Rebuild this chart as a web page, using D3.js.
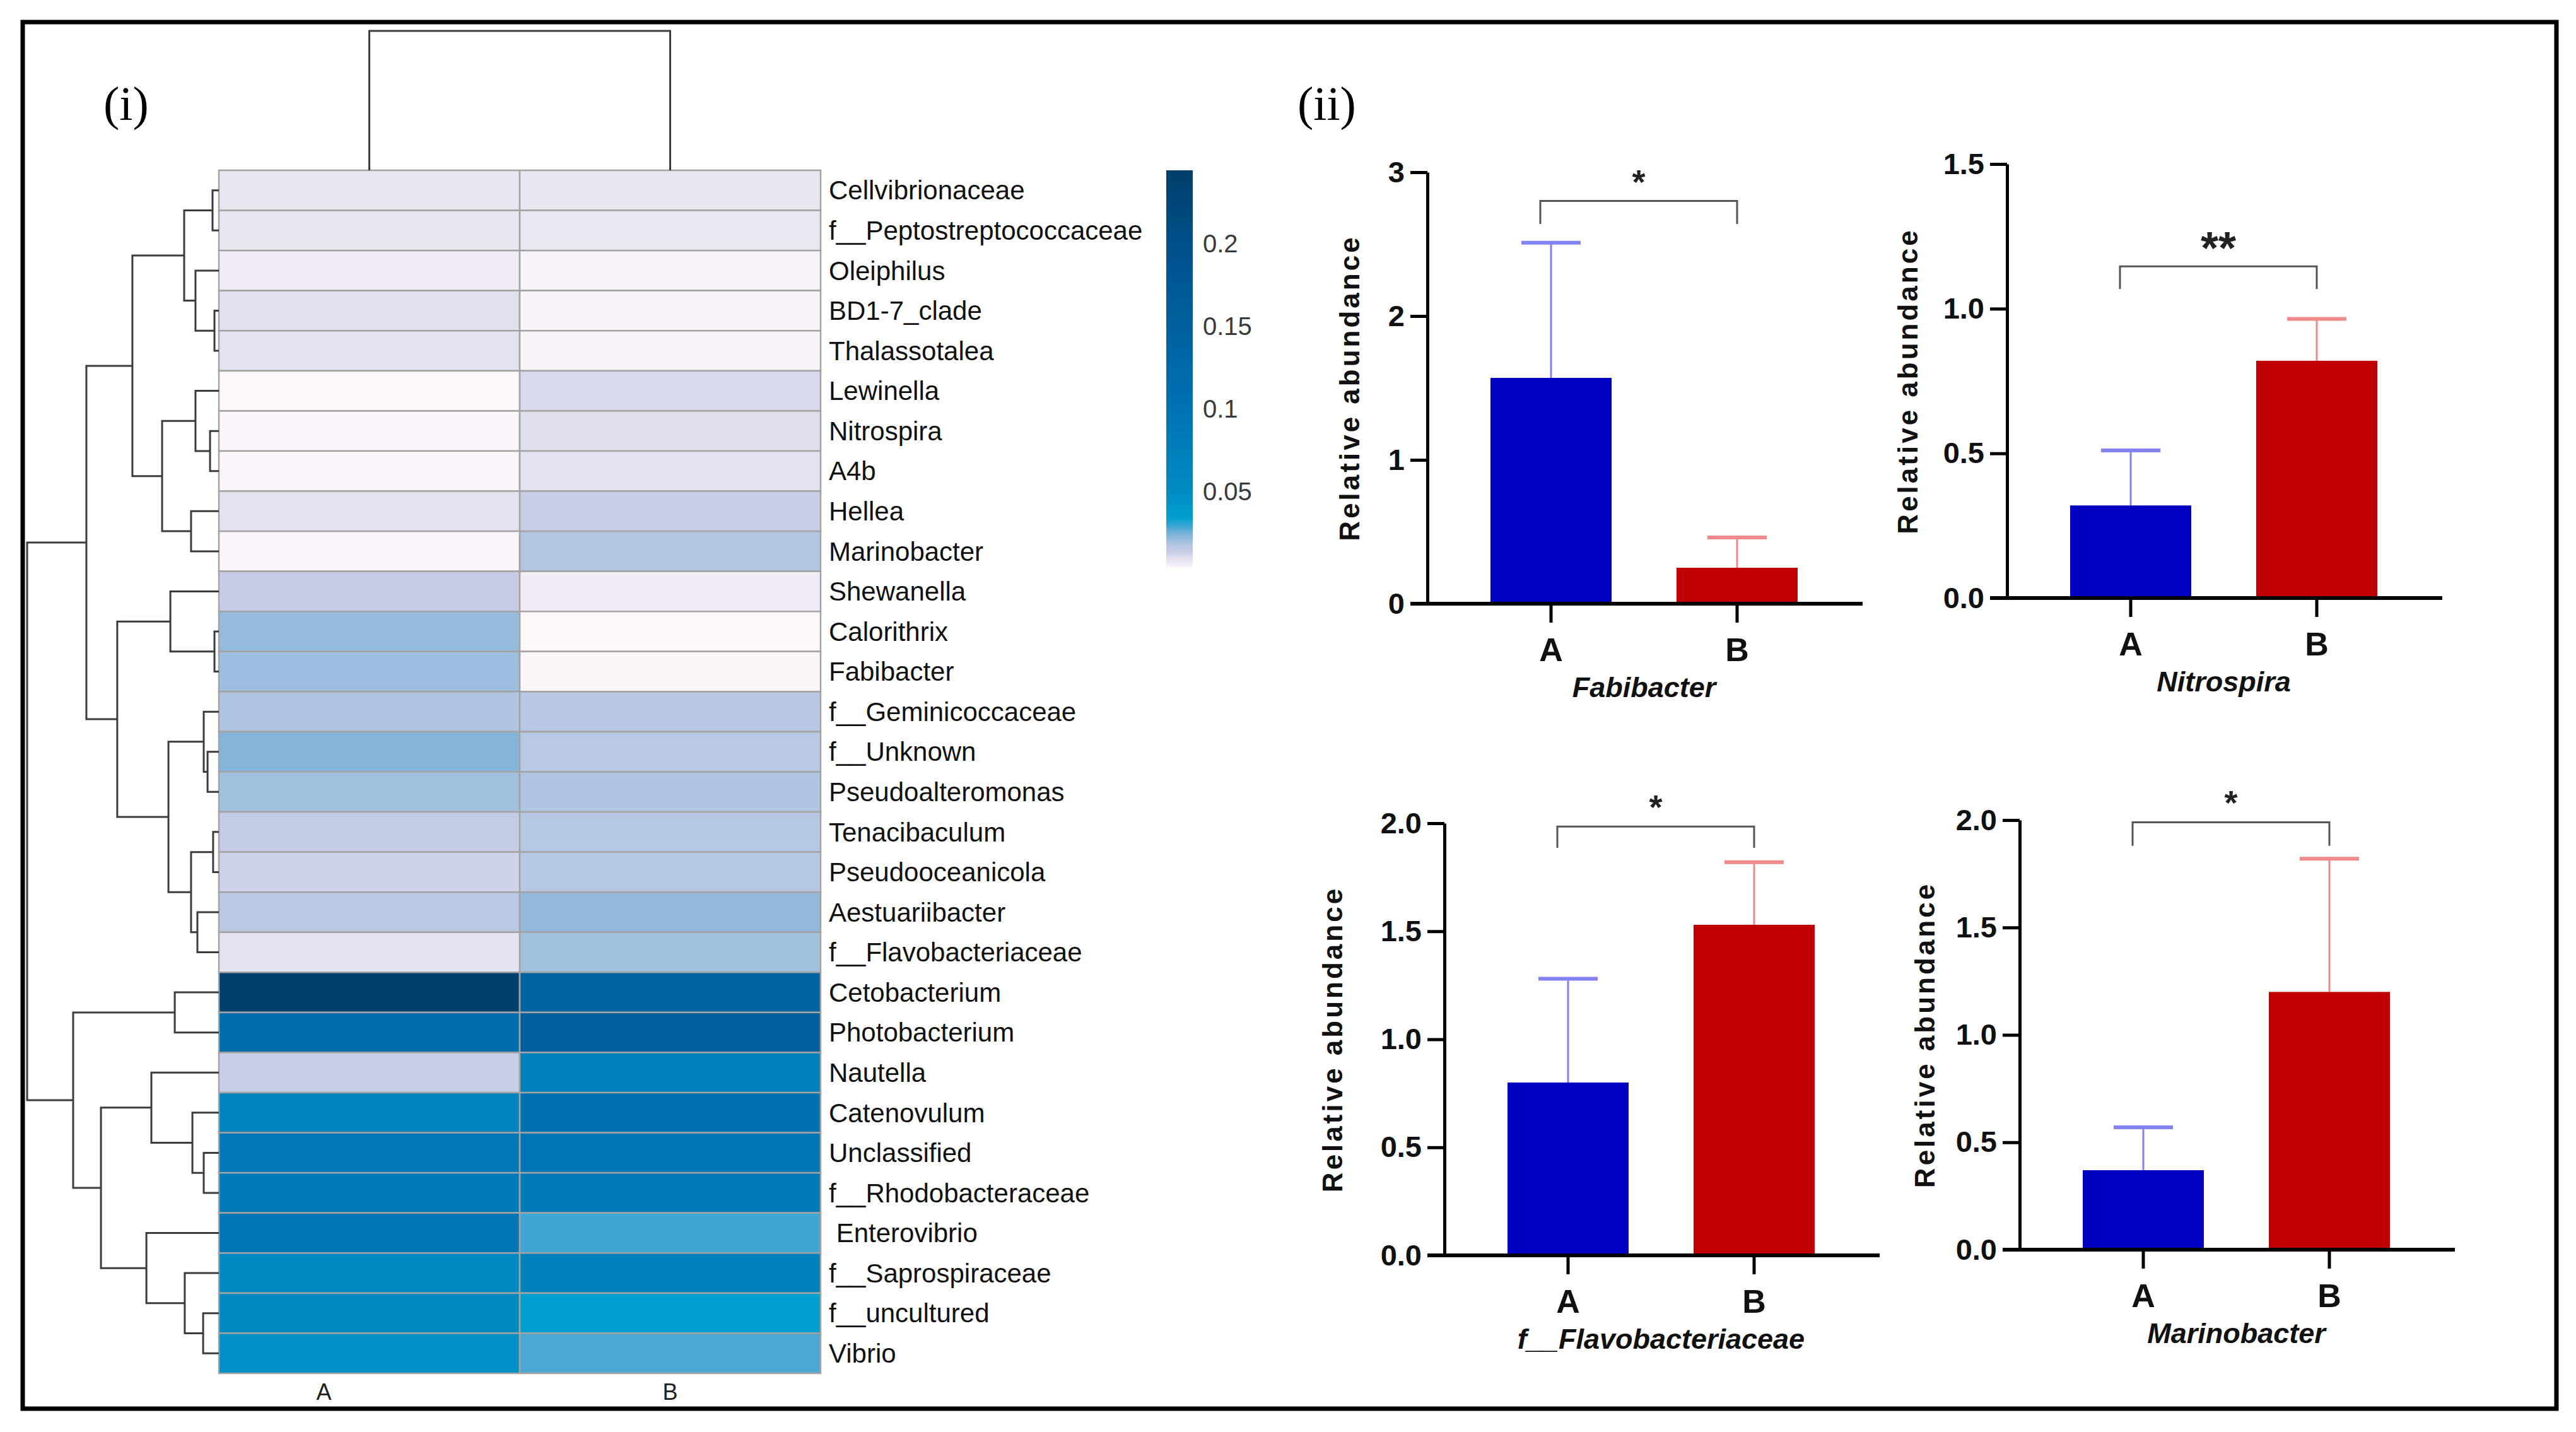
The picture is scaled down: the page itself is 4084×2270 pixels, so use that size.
<!DOCTYPE html>
<html>
<head>
<meta charset="utf-8">
<script src="https://cdn.jsdelivr.net/npm/d3@7"></script>
<style>
  body { margin: 0; background: #fff; }
  svg { display: block; font-family: 'Liberation Sans', Arial, sans-serif; }
</style>
</head>
<body>
<div id="chart"></div>
<script>
// ---- heatmap data ----
const ROWS = [
  'Cellvibrionaceae', 'f__Peptostreptococcaceae', 'Oleiphilus', 'BD1-7_clade', 'Thalassotalea',
  'Lewinella', 'Nitrospira', 'A4b', 'Hellea', 'Marinobacter',
  'Shewanella', 'Calorithrix', 'Fabibacter', 'f__Geminicoccaceae', 'f__Unknown',
  'Pseudoalteromonas', 'Tenacibaculum', 'Pseudooceanicola', 'Aestuariibacter', 'f__Flavobacteriaceae',
  'Cetobacterium', 'Photobacterium', 'Nautella', 'Catenovulum', 'Unclassified',
  'f__Rhodobacteraceae', ' Enterovibrio', 'f__Saprospiraceae', 'f__uncultured', 'Vibrio'
];
const GROUPS = ['A', 'B'];
const HEAT_A = [0.008, 0.008, 0.0065, 0.0095, 0.009, 0.004, 0.0042, 0.0042, 0.0088, 0.0045,
  0.014, 0.0215, 0.0205, 0.018, 0.0235, 0.020, 0.0145, 0.0125, 0.016, 0.0088,
  0.240, 0.115, 0.0135, 0.068, 0.088, 0.085, 0.097, 0.055, 0.054, 0.046];
const HEAT_B = [0.008, 0.0078, 0.005, 0.0048, 0.0048, 0.011, 0.0098, 0.009, 0.0138, 0.0175,
  0.0065, 0.0041, 0.0043, 0.0165, 0.0163, 0.018, 0.017, 0.017, 0.022, 0.020,
  0.140, 0.155, 0.072, 0.105, 0.095, 0.083, 0.029, 0.072, 0.034, 0.028];
const LEGEND_TICKS = [0.05, 0.1, 0.15, 0.2];
const LEGEND_RANGE = [0.004, 0.244];

// row clustering: [height, left, right], leaves are row indices
const ROW_TREE = [1.0,
  [0.691,
    [0.451,
      [0.181, [0.033, 0, 1], [0.122, 2, [0.023, 3, 4]]],
      [0.296, [0.122, 5, [0.046, 6, 7]], [0.145, 8, 9]]
    ],
    [0.530,
      [0.253, 10, [0.023, 11, 12]],
      [0.263, [0.079, 13, [0.059, 14, 15]], [0.145, [0.030, 16, 17], [0.112, 18, 19]]]
    ]
  ],
  [0.760,
    [0.230, 20, 21],
    [0.615,
      [0.352, 22, [0.138, 23, [0.079, 24, 25]]],
      [0.378, 26, [0.178, 27, [0.082, 28, 29]]]
    ]
  ]
];
const COL_TREE = [1.0, 0, 1];

// ---- bar chart data ----
const PANEL_TITLES = ['Fabibacter', 'Nitrospira', 'f__Flavobacteriaceae', 'Marinobacter'];
const MEAN_A = [1.57, 0.32, 0.80, 0.37];
const MEAN_B = [0.25, 0.82, 1.53, 1.20];
const SD_A = [0.94, 0.19, 0.48, 0.20];
const SD_B = [0.21, 0.145, 0.29, 0.62];
const Y_MAX = [3, 1.5, 2, 2];
const Y_TICKS = [[0, 1, 2, 3], [0, 0.5, 1, 1.5], [0, 0.5, 1, 1.5, 2], [0, 0.5, 1, 1.5, 2]];
const SIG = ['*', '**', '*', '*'];
const BRACKET_TOP = [2.80, 1.146, 1.985, 1.99];
const BRACKET_LEG = [2.64, 1.068, 1.886, 1.88];

// colour ramp of the heatmap
const RAMP_VALUES = [0.004, 0.009, 0.014, 0.019, 0.024, 0.029, 0.034, 0.05, 0.1, 0.15, 0.2, 0.244];
const RAMP_COLORS = ['#fdf6fb', '#e4e2f0', '#c6cce6', '#a9c3e0', '#80b3d8', '#3fa5d2',
  '#009fcf', '#008bc2', '#0072b3', '#00609e', '#00508a', '#003e69'];

const W = 4084, H = 2270;
const svg = d3.select('#chart').append('svg')
  .attr('width', W).attr('height', H)
  .attr('viewBox', `0 0 ${W} ${H}`);

svg.append('rect').attr('width', W).attr('height', H).attr('fill', '#fff');

// outer frame
svg.append('rect')
  .attr('x', 36).attr('y', 35).attr('width', 4017).attr('height', 2198)
  .attr('fill', 'none').attr('stroke', '#000').attr('stroke-width', 7);

// panel letters
svg.append('text').attr('x', 164).attr('y', 190)
  .style('font-family', "'Liberation Serif', 'Times New Roman', serif")
  .style('font-size', '76px').text('(i)');
svg.append('text').attr('x', 2057).attr('y', 190)
  .style('font-family', "'Liberation Serif', 'Times New Roman', serif")
  .style('font-size', '76px').text('(ii)');

// ================= heatmap =================
const x = d3.scaleBand().domain(GROUPS).range([347, 1301]);
const y = d3.scaleBand().domain(ROWS).range([270, 2177]);
const color = d3.scaleLinear().domain(RAMP_VALUES).range(RAMP_COLORS).clamp(true);

let cells = [];
ROWS.forEach((r, i) => {
  cells.push({row: r, group: 'A', value: HEAT_A[i]});
  cells.push({row: r, group: 'B', value: HEAT_B[i]});
});

const heat = svg.append('g');
heat.selectAll('rect')
  .data(cells)
  .enter()
  .append('rect')
  .attr('x', d => x(d.group))
  .attr('y', d => y(d.row))
  .attr('width', x.bandwidth())
  .attr('height', y.bandwidth())
  .style('fill', d => color(d.value))
  .style('stroke', '#a3a3a3')
  .style('stroke-width', 2.5);

// row labels
heat.selectAll('.row-label')
  .data(ROWS)
  .enter()
  .append('text')
  .attr('class', 'row-label')
  .attr('x', 1314)
  .attr('y', d => y(d) + y.bandwidth() / 2)
  .attr('dy', '0.35em')
  .style('font-size', '42px')
  .style('fill', '#111')
  .style('white-space', 'pre')
  .text(d => d);

// column labels (A label sits left of its column centre in the original)
const colLabelShift = {A: -72, B: 0};
heat.selectAll('.col-label')
  .data(GROUPS)
  .enter()
  .append('text')
  .attr('x', d => x(d) + x.bandwidth() / 2 + colLabelShift[d])
  .attr('y', 2206)
  .attr('dy', '0.35em')
  .attr('text-anchor', 'middle')
  .style('font-size', '36px')
  .style('fill', '#222')
  .text(d => d);

// row dendrogram
const hx = d3.scaleLinear().domain([0, 1]).range([347, 43]);
let rowPaths = [];
function layoutRow(node) {
  if (typeof node === 'number') {
    return {x: hx(0), y: y(ROWS[node]) + y.bandwidth() / 2};
  }
  const a = layoutRow(node[1]);
  const b = layoutRow(node[2]);
  const nx = hx(node[0]);
  rowPaths.push(`M${a.x},${a.y}H${nx}V${b.y}H${b.x}`);
  return {x: nx, y: (a.y + b.y) / 2};
}
layoutRow(ROW_TREE);

svg.append('g').selectAll('path')
  .data(rowPaths)
  .enter()
  .append('path')
  .attr('d', d => d)
  .attr('fill', 'none')
  .attr('stroke', '#3c3c3c')
  .attr('stroke-width', 3);

// column dendrogram
const hy = d3.scaleLinear().domain([0, 1]).range([270, 49]);
let colPaths = [];
function layoutCol(node) {
  if (typeof node === 'number') {
    return {x: x(GROUPS[node]) + x.bandwidth() / 2, y: hy(0)};
  }
  const a = layoutCol(node[1]);
  const b = layoutCol(node[2]);
  const ny = hy(node[0]);
  colPaths.push(`M${a.x},${a.y}V${ny}H${b.x}V${b.y}`);
  return {x: (a.x + b.x) / 2, y: ny};
}
layoutCol(COL_TREE);

svg.append('g').selectAll('path')
  .data(colPaths)
  .enter()
  .append('path')
  .attr('d', d => d)
  .attr('fill', 'none')
  .attr('stroke', '#3c3c3c')
  .attr('stroke-width', 3);

// colour legend
const legendY = d3.scaleLinear().domain(LEGEND_RANGE).range([900, 270]);
const grad = svg.append('defs').append('linearGradient')
  .attr('id', 'heat-grad')
  .attr('x1', 0).attr('y1', 1).attr('x2', 0).attr('y2', 0);
grad.selectAll('stop')
  .data(RAMP_VALUES)
  .enter()
  .append('stop')
  .attr('offset', d => (d - LEGEND_RANGE[0]) / (LEGEND_RANGE[1] - LEGEND_RANGE[0]))
  .attr('stop-color', d => color(d));

svg.append('rect')
  .attr('x', 1849).attr('y', legendY(LEGEND_RANGE[1]))
  .attr('width', 42)
  .attr('height', legendY(LEGEND_RANGE[0]) - legendY(LEGEND_RANGE[1]))
  .attr('fill', 'url(#heat-grad)');

svg.append('g').selectAll('text')
  .data(LEGEND_TICKS)
  .enter()
  .append('text')
  .attr('x', 1907)
  .attr('y', d => legendY(d))
  .attr('dy', '0.35em')
  .style('font-size', '40px')
  .style('fill', '#3a3a3a')
  .text(d => d);

// ================= bar charts =================
const PANELS = [
  {axisX: 2263, y0: 957, yTop: 273, labelX: 2140},
  {axisX: 3182, y0: 948, yTop: 260, labelX: 3025},
  {axisX: 2290, y0: 1990, yTop: 1305, labelX: 2113},
  {axisX: 3202, y0: 1981, yTop: 1300, labelX: 3052}
];
const BAR_COLORS = {A: '#0000c0', B: '#c00000'};
const ERR_COLORS = {A: '#8282f0', B: '#f08a8a'};

PANELS.forEach((p, k) => {
  const g = svg.append('g');
  const yb = d3.scaleLinear().domain([0, Y_MAX[k]]).range([p.y0, p.yTop]);
  const xb = d3.scaleBand().domain(GROUPS)
    .range([p.axisX + 100, p.axisX + 587])
    .paddingInner(0.349);
  const cx = d => xb(d) + xb.bandwidth() / 2;

  const bars = [
    {group: 'A', mean: MEAN_A[k], sd: SD_A[k]},
    {group: 'B', mean: MEAN_B[k], sd: SD_B[k]}
  ];

  // error bars (upper only)
  g.selectAll('.err')
    .data(bars)
    .enter()
    .append('line')
    .attr('x1', d => cx(d.group)).attr('x2', d => cx(d.group))
    .attr('y1', d => yb(d.mean)).attr('y2', d => yb(d.mean + d.sd))
    .attr('stroke', d => ERR_COLORS[d.group])
    .attr('stroke-width', 3);
  g.selectAll('.cap')
    .data(bars)
    .enter()
    .append('line')
    .attr('x1', d => cx(d.group) - 47).attr('x2', d => cx(d.group) + 47)
    .attr('y1', d => yb(d.mean + d.sd)).attr('y2', d => yb(d.mean + d.sd))
    .attr('stroke', d => ERR_COLORS[d.group])
    .attr('stroke-width', 6);

  g.selectAll('.bar')
    .data(bars)
    .enter()
    .append('rect')
    .attr('x', d => xb(d.group))
    .attr('y', d => yb(d.mean))
    .attr('width', xb.bandwidth())
    .attr('height', d => yb(0) - yb(d.mean))
    .attr('fill', d => BAR_COLORS[d.group]);

  // y axis
  const fmt = Y_MAX[k] === 3 ? d3.format('d') : d3.format('.1f');
  const ya = g.append('g')
    .attr('transform', `translate(${p.axisX},0)`)
    .call(d3.axisLeft(yb).tickValues(Y_TICKS[k]).tickFormat(fmt)
      .tickSize(27).tickSizeOuter(0).tickPadding(9));
  ya.select('.domain').attr('stroke-width', 5);
  ya.selectAll('.tick line').attr('stroke-width', 5);
  ya.selectAll('.tick text')
    .style('font-size', '47px').style('font-weight', 'bold').style('fill', '#111')
    .style('font-family', "'Liberation Sans', Arial, sans-serif");

  // x axis
  const xa = g.append('g')
    .attr('transform', `translate(0,${p.y0})`)
    .call(d3.axisBottom(xb).tickSize(30).tickSizeOuter(0).tickPadding(24));
  xa.select('.domain').remove();
  xa.selectAll('.tick line').attr('stroke-width', 5);
  xa.selectAll('.tick text')
    .style('font-size', '52px').style('font-weight', 'bold').style('fill', '#111')
    .style('font-family', "'Liberation Sans', Arial, sans-serif");
  g.append('line')
    .attr('x1', p.axisX - 27).attr('x2', p.axisX + 690)
    .attr('y1', p.y0).attr('y2', p.y0)
    .attr('stroke', '#000').attr('stroke-width', 6);

  // axis titles
  g.append('text')
    .attr('transform', `translate(${p.labelX},${(p.y0 + p.yTop) / 2}) rotate(-90)`)
    .attr('text-anchor', 'middle')
    .attr('dy', '0.35em')
    .style('font-size', '44px').style('font-weight', 'bold')
    .style('letter-spacing', '4px').style('fill', '#111')
    .text('Relative abundance');
  g.append('text')
    .attr('x', (xb('A') + xb('B') + xb.bandwidth()) / 2)
    .attr('y', p.y0 + 148)
    .attr('text-anchor', 'middle')
    .style('font-size', '45px').style('font-weight', 'bold').style('font-style', 'italic')
    .style('fill', '#111')
    .text(PANEL_TITLES[k]);

  // significance bracket
  const bx1 = cx('A') - 17, bx2 = cx('B');
  g.append('path')
    .attr('d', `M${bx1},${yb(BRACKET_LEG[k])}V${yb(BRACKET_TOP[k])}H${bx2}V${yb(BRACKET_LEG[k])}`)
    .attr('fill', 'none').attr('stroke', '#555').attr('stroke-width', 3);
  g.append('text')
    .attr('x', (bx1 + bx2) / 2)
    .attr('y', yb(BRACKET_TOP[k]) + (SIG[k].length > 1 ? -4 : -12))
    .attr('text-anchor', 'middle')
    .style('font-size', SIG[k].length > 1 ? '72px' : '54px')
    .style('font-weight', 'bold').style('fill', '#222')
    .text(SIG[k]);
});
</script>
</body>
</html>
